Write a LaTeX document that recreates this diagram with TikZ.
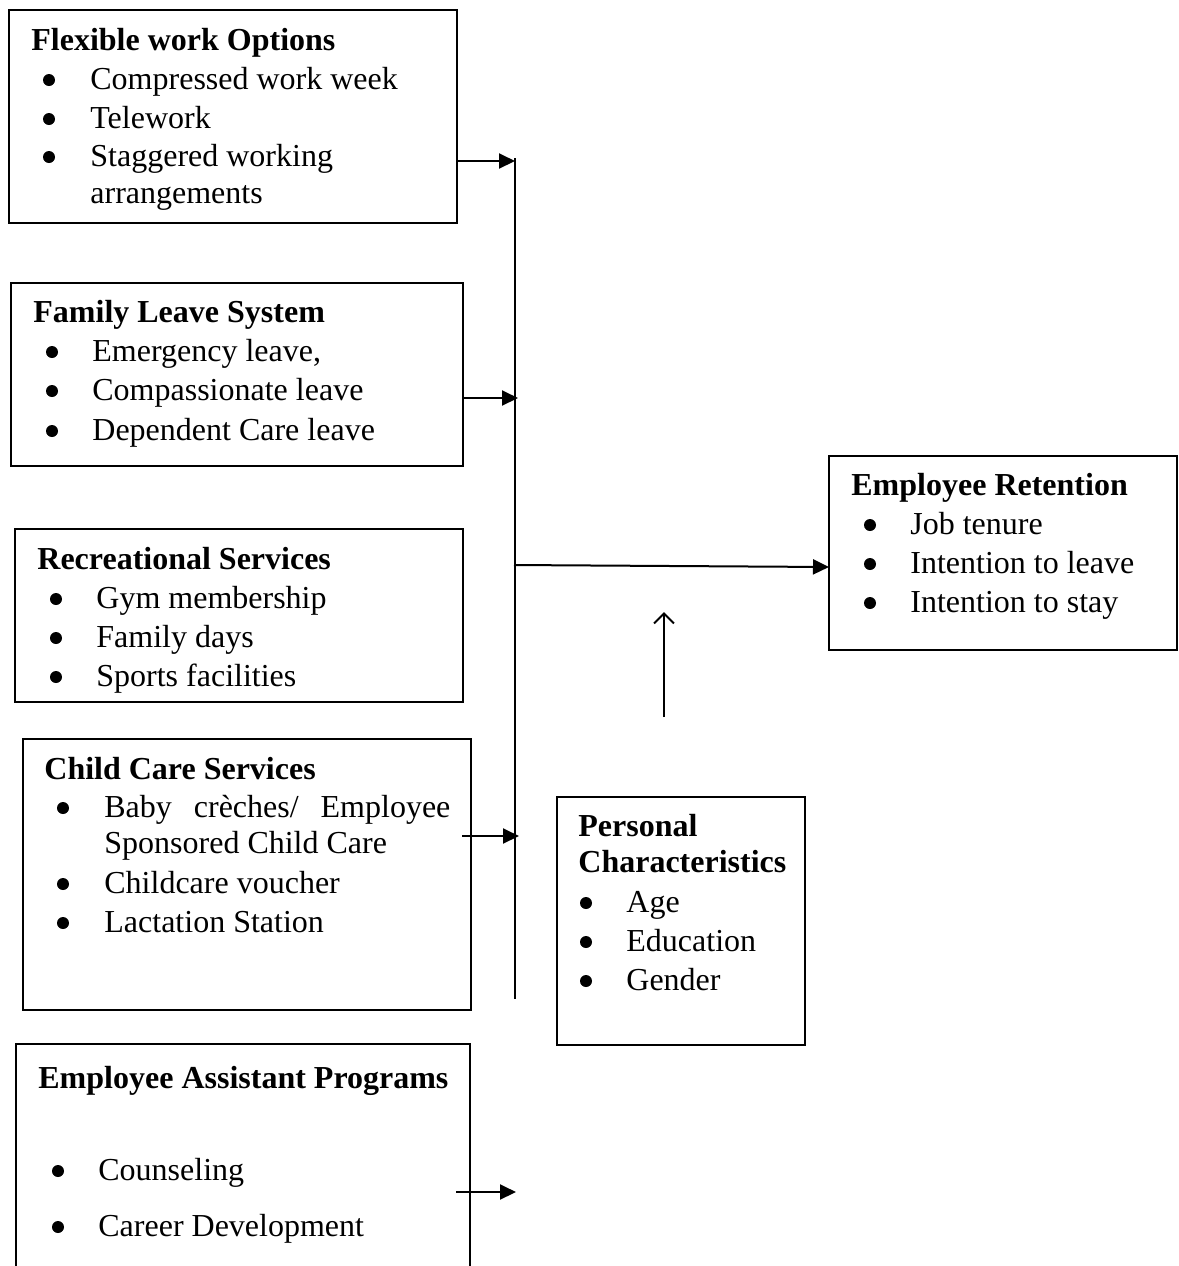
\documentclass[tikz,border=0pt]{standalone}
\usepackage{fontspec}
\setmainfont{Liberation Serif}
\usetikzlibrary{fit,arrows.meta}
\begin{document}
\begin{tikzpicture}[x=0.5pt,y=-0.5pt,
  box/.style={draw, line width=1pt, inner sep=0pt},
  ttl/.style={anchor=base west, inner sep=0pt, font=\fontsize{16}{19.5}\selectfont\bfseries},
  itm/.style={anchor=base west, inner sep=0pt, font=\fontsize{16}{19.5}\selectfont},
  bul/.style={circle, fill, inner sep=0pt, minimum size=6pt, yshift=4.5pt},
  arr/.style={line width=1pt, -{Triangle[length=8pt,width=7.5pt]}},
  openarr/.style={line width=1pt, -{Straight Barb[length=5pt,width=10pt]}}]
\useasboundingbox (0,0) rectangle (1179,1266);
\clip (0,0) rectangle (1179,1266);
\fill[white] (0,0) rectangle (1179,1266);

% Box 1: Flexible work options
\node[box, fit={(9,10) (457,223)}] (flex) {};
\node[ttl] (flexT) at (31,50) {Flexible work Options};
\node[bul] (flexB1) at (49,89) {};
\node[itm] (flexI1) at (90,89) {Compressed work week};
\node[bul] (flexB2) at (49,128) {};
\node[itm] (flexI2) at (90,128) {Telework};
\node[bul] (flexB3) at (49,166) {};
\node[itm] (flexI3) at (90,166) {Staggered working};
\node[itm] (flexI4) at (90,203) {arrangements};

% Box 2: Family leave system
\node[box, fit={(11,283) (463,466)}] (fam) {};
\node[ttl] (famT) at (33,322) {Family Leave System};
\node[bul] (famB1) at (52,361) {};
\node[itm] (famI1) at (92,361) {Emergency leave,};
\node[bul] (famB2) at (52,400) {};
\node[itm] (famI2) at (92,400) {Compassionate leave};
\node[bul] (famB3) at (52,440) {};
\node[itm] (famI3) at (92,440) {Dependent Care leave};

% Box 3: Recreational services
\node[box, fit={(15,529) (463,702)}] (rec) {};
\node[ttl] (recT) at (37,569) {Recreational Services};
\node[bul] (recB1) at (56,608) {};
\node[itm] (recI1) at (96,608) {Gym membership};
\node[bul] (recB2) at (56,647) {};
\node[itm] (recI2) at (96,647) {Family days};
\node[bul] (recB3) at (56,686) {};
\node[itm] (recI3) at (96,686) {Sports facilities};

% Box 4: Child care services
\node[box, fit={(23,739) (471,1010)}] (child) {};
\node[ttl] (childT) at (44,779) {Child Care Services};
\node[bul] (childB1) at (63,817) {};
\node[itm] (childI1) at (104,817) {\makebox[173pt][s]{Baby crèches/ Employee}};
\node[itm] (childI2) at (104,853) {Sponsored Child Care};
\node[bul] (childB2) at (63,893) {};
\node[itm] (childI3) at (104,893) {Childcare voucher};
\node[bul] (childB3) at (63,932) {};
\node[itm] (childI4) at (104,932) {Lactation Station};

% Box 5: Employee assistant programs
\node[box, fit={(16,1044) (470,1300)}] (eap) {};
\node[ttl] (eapT) at (38,1088) {Employee Assistant Programs};
\node[bul] (eapB1) at (58,1180) {};
\node[itm] (eapI1) at (98,1180) {Counseling};
\node[bul] (eapB2) at (58,1236) {};
\node[itm] (eapI2) at (98,1236) {Career Development};

% Box 6: Employee retention
\node[box, fit={(829,456) (1177,650)}] (ret) {};
\node[ttl] (retT) at (851,495) {Employee Retention};
\node[bul] (retB1) at (870,534) {};
\node[itm] (retI1) at (910,534) {Job tenure};
\node[bul] (retB2) at (870,573) {};
\node[itm] (retI2) at (910,573) {Intention to leave};
\node[bul] (retB3) at (870,612) {};
\node[itm] (retI3) at (910,612) {Intention to stay};

% Box 7: Personal characteristics
\node[box, fit={(557,797) (805,1045)}] (pers) {};
\node[ttl] (persT1) at (578,836) {Personal};
\node[ttl] (persT2) at (578,872) {Characteristics};
\node[bul] (persB1) at (586,912) {};
\node[itm] (persI1) at (626,912) {Age};
\node[bul] (persB2) at (586,951) {};
\node[itm] (persI2) at (626,951) {Education};
\node[bul] (persB3) at (586,990) {};
\node[itm] (persI3) at (626,990) {Gender};

% Connector coordinates
\coordinate (busTop) at (515,158);
\coordinate (busBot) at (515,999);
\coordinate (a1s) at (457,161);
\coordinate (a1e) at (515,161);
\coordinate (a2s) at (463,398);
\coordinate (a2e) at (518,398);
\coordinate (a3s) at (514,565);
\coordinate (a3e) at (829,567);
\coordinate (a4s) at (462,836);
\coordinate (a4e) at (519,836);
\coordinate (a5s) at (456,1192);
\coordinate (a5e) at (516,1192);
\coordinate (upS) at (664,717);
\coordinate (upE) at (664,612);

\draw[line width=1pt] (busTop) -- (busBot);
\draw[arr] (a1s) -- (a1e);
\draw[arr] (a2s) -- (a2e);
\draw[arr] (a3s) -- (a3e);
\draw[arr] (a4s) -- (a4e);
\draw[arr] (a5s) -- (a5e);
\draw[openarr] (upS) -- (upE);
\end{tikzpicture}
\end{document}
